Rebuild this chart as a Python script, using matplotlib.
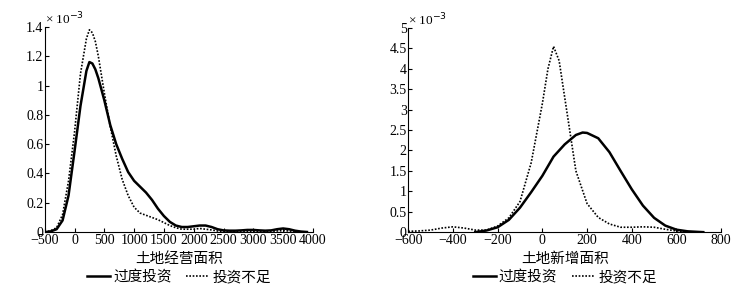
import numpy as np
import matplotlib
matplotlib.use("Agg")
import matplotlib.pyplot as plt
from matplotlib.ticker import FormatStrFormatter

plt.rcParams['font.family'] = ['Liberation Serif', 'Noto Sans CJK SC']
plt.rcParams['axes.unicode_minus'] = True

labels = ["过度投资", "投资不足"]

# left panel: 土地经营面积 (density x 1e-3)
x_op = [-500, -400, -300, -200, -100, 0, 100, 200, 250, 300, 350, 400, 500, 600, 700,
        800, 900, 1000, 1100, 1200, 1300, 1400, 1500, 1600, 1700, 1800, 1900, 2000,
        2100, 2200, 2300, 2400, 2500, 2600, 2700, 2800, 2900, 3000, 3100, 3200, 3300,
        3400, 3500, 3600, 3700, 3800, 3900]
y_op_over = [0, 0.005, 0.02, 0.08, 0.25, 0.55, 0.86, 1.1, 1.16, 1.15, 1.11, 1.05, 0.9, 0.73,
             0.6, 0.5, 0.41, 0.35, 0.31, 0.27, 0.22, 0.16, 0.11, 0.07, 0.045, 0.035, 0.035,
             0.04, 0.045, 0.045, 0.035, 0.02, 0.012, 0.01, 0.01, 0.012, 0.015, 0.015, 0.012,
             0.01, 0.012, 0.02, 0.025, 0.02, 0.01, 0.004, 0.001]
y_op_under = [0, 0.01, 0.03, 0.12, 0.35, 0.68, 1.08, 1.32, 1.38, 1.36, 1.3, 1.2, 0.95, 0.72,
              0.52, 0.36, 0.25, 0.17, 0.13, 0.115, 0.1, 0.085, 0.065, 0.045, 0.03, 0.02,
              0.02, 0.02, 0.025, 0.02, 0.015, 0.008, 0.005, 0.004, 0.004, 0.005, 0.006,
              0.006, 0.005, 0.005, 0.006, 0.008, 0.01, 0.008, 0.004, 0.002, 0.0]

# right panel: 土地新增面积
x_new_over = [-300, -250, -200, -150, -100, -50, 0, 50, 100, 150, 180, 200, 250, 300, 350,
              400, 450, 500, 550, 600, 650, 700, 720]
y_new_over = [0, 0.04, 0.12, 0.3, 0.6, 0.98, 1.38, 1.85, 2.15, 2.38, 2.44, 2.43, 2.3, 1.96,
              1.5, 1.05, 0.65, 0.35, 0.16, 0.06, 0.02, 0.005, 0]
x_new_under = [-600, -550, -500, -450, -400, -350, -300, -250, -200, -150, -100, -50, 0, 25,
               50, 75, 100, 125, 150, 200, 250, 300, 350, 400, 450, 500, 550, 600, 650, 700]
y_new_under = [0.02, 0.03, 0.05, 0.1, 0.13, 0.1, 0.05, 0.05, 0.15, 0.35, 0.75, 1.7, 3.15, 4.0,
               4.55, 4.2, 3.3, 2.4, 1.5, 0.7, 0.36, 0.2, 0.12, 0.12, 0.13, 0.12, 0.07, 0.03,
               0.01, 0]

fig = plt.figure(figsize=(7.45, 2.92), dpi=100)
ax1 = fig.add_axes([0.060, 0.205, 0.360, 0.703])
ax2 = fig.add_axes([0.548, 0.205, 0.420, 0.699])

panels = [
    (ax1, x_op, y_op_over, x_op, y_op_under, (-500, 4000), np.arange(-500, 4001, 500),
     (0, 1.4), np.arange(0, 1.41, 0.2), "土地经营面积"),
    (ax2, x_new_over, y_new_over, x_new_under, y_new_under, (-600, 800),
     np.arange(-600, 801, 200), (0, 5), np.arange(0, 5.01, 0.5), "土地新增面积"),
]

for ax, xa, ya, xb, yb, xl, xt, yl, yt, xlab in panels:
    ax.plot(xa, ya, color='black', lw=1.8, label=labels[0])
    ax.plot(xb, yb, color='black', lw=1.2, ls=(0, (1, 1)), label=labels[1])
    ax.set_xlim(*xl)
    ax.set_ylim(*yl)
    ax.set_xticks(xt)
    ax.set_yticks(yt)
    ax.yaxis.set_major_formatter(FormatStrFormatter('%g'))
    ax.spines['top'].set_visible(False)
    ax.spines['right'].set_visible(False)
    ax.tick_params(direction='in', length=3, labelsize=10, pad=1)
    ax.set_xlabel(xlab, fontsize=10.5, labelpad=4)
    ax.text(0.0, 1.0, "× 10$^{-3}$", transform=ax.transAxes, fontsize=9.5,
            ha='left', va='bottom')
    ax.legend(loc='center', bbox_to_anchor=(0.5, -0.22), ncol=2, frameon=False,
              fontsize=10.5, handlelength=1.6, handletextpad=0.2, columnspacing=1.0,
              borderaxespad=0)

fig.savefig("out.png", dpi=100)
